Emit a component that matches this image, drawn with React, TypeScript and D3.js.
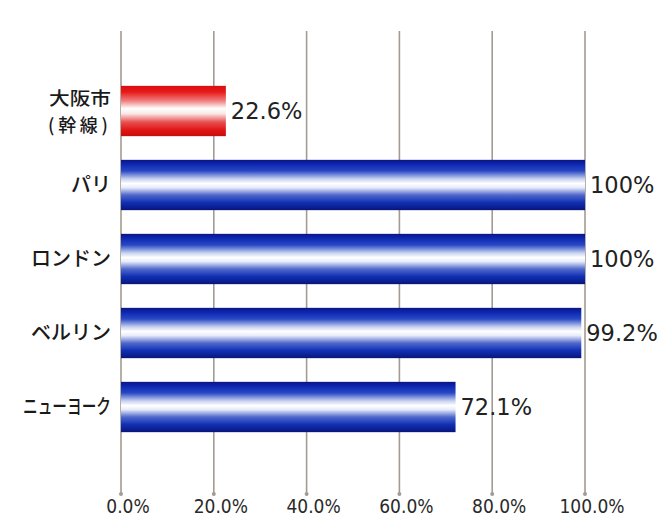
import React from "react";
import * as d3 from "d3";

const categories: string[][] = [["大阪市", "(幹線)"], ["パリ"], ["ロンドン"], ["ベルリン"], ["ニューヨーク"]];
const values: number[] = [22.6, 100, 100, 99.2, 72.1];
const valueLabels: string[] = ["22.6%", "100%", "100%", "99.2%", "72.1%"];
const ticks: number[] = [0, 20, 40, 60, 80, 100];
const tickLabels: string[] = ["0.0%", "20.0%", "40.0%", "60.0%", "80.0%", "100.0%"];

const W = 671, H = 517;
const x = d3.scaleLinear().domain([0, 100]).range([121, 585]);
const y = d3.scaleBand<number>().domain(d3.range(categories.length)).range([74, 444]).paddingInner(0.32).paddingOuter(0.16);

const jp = "'Noto Sans CJK JP', 'Noto Sans', sans-serif";
const num = "'DejaVu Sans', sans-serif";

export default function App() {
  const bw = y.bandwidth();
  return (
    <svg width={W} height={H} style={{ position: "absolute", left: 0, top: 0, background: "#fff" }}>
      <defs>
        <linearGradient id="gBlue" x1="0" y1="0" x2="0" y2="1">
          <stop offset="0" stopColor="#0a1680" />
          <stop offset="0.08" stopColor="#0c25b0" />
          <stop offset="0.22" stopColor="#2848c4" />
          <stop offset="0.38" stopColor="#c8d2f0" />
          <stop offset="0.47" stopColor="#ffffff" />
          <stop offset="0.55" stopColor="#e8ecfa" />
          <stop offset="0.7" stopColor="#5068cc" />
          <stop offset="0.85" stopColor="#1030b4" />
          <stop offset="1" stopColor="#08157a" />
        </linearGradient>
        <linearGradient id="gRed" x1="0" y1="0" x2="0" y2="1">
          <stop offset="0" stopColor="#d81010" />
          <stop offset="0.12" stopColor="#e81818" />
          <stop offset="0.3" stopColor="#f08080" />
          <stop offset="0.45" stopColor="#ffffff" />
          <stop offset="0.55" stopColor="#fbe8e8" />
          <stop offset="0.72" stopColor="#e85050" />
          <stop offset="0.88" stopColor="#e01414" />
          <stop offset="1" stopColor="#c80c0c" />
        </linearGradient>
      </defs>
      {ticks.map((t, i) => (
        <g key={i}>
          <line x1={x(t)} x2={x(t)} y1={31} y2={494} stroke="#a39b93" strokeWidth={1.6} />
          <circle cx={x(t)} cy={494} r={2} fill="#a39b93" />
          <text x={x(t) + 7} y={513} textAnchor="middle" fontSize={19} fill="#2a2a2a"
            fontFamily="'DejaVu Sans Condensed', 'Liberation Sans Narrow', sans-serif">{tickLabels[i]}</text>
        </g>
      ))}
      {values.map((v, i) => {
        const cy = y(i)! + bw / 2;
        const cat = categories[i];
        return (
          <g key={i}>
            <rect x={x(0)} y={y(i)!} width={x(v) - x(0)} height={bw} fill={i === 0 ? "url(#gRed)" : "url(#gBlue)"} />
            <text x={x(v) + 5} y={cy + 8} fontSize={22.5} fill="#222" fontFamily={num}>{valueLabels[i]}</text>
            {cat.length === 1 ? (
              cat[0].length > 4 ? (
                <text x={111} y={cy + 7} textAnchor="end" fontSize={20} fontWeight={500} fill="#1a1a1a" fontFamily={jp}
                  textLength={88} lengthAdjust="spacingAndGlyphs">{cat[0]}</text>
              ) : (
                <text x={111} y={cy + 7} textAnchor="end" fontSize={20} fontWeight={500} fill="#1a1a1a" fontFamily={jp}>{cat[0]}</text>
              )
            ) : (
              <>
                <text x={49} y={cy - 6} fontSize={18} fontWeight={500} fill="#1a1a1a" fontFamily={jp}
                  textLength={62} lengthAdjust="spacingAndGlyphs">{cat[0]}</text>
                <text x={48} y={cy + 21} fontSize={18} fontWeight={500} fill="#1a1a1a" fontFamily={jp}
                  textLength={60} lengthAdjust="spacing">{cat[1]}</text>
              </>
            )}
          </g>
        );
      })}
    </svg>
  );
}
